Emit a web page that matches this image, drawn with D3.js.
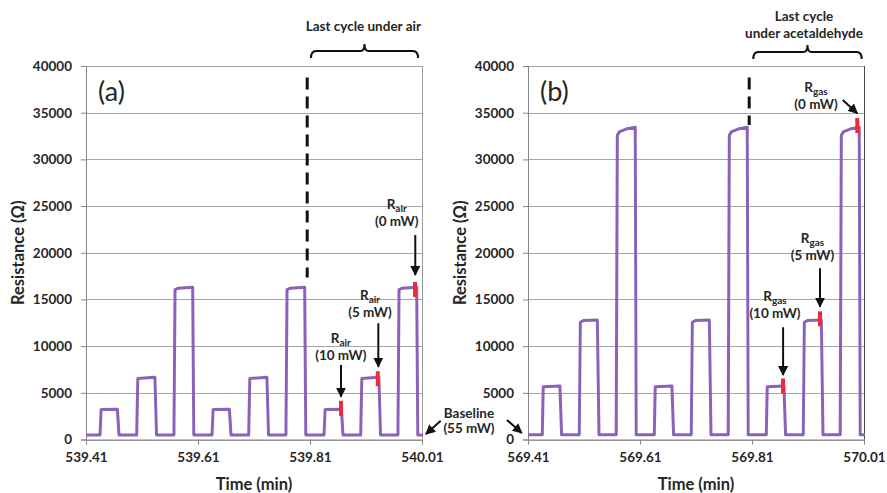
<!DOCTYPE html>
<html>
<head>
<meta charset="utf-8">
<script src="https://cdn.jsdelivr.net/npm/d3@7"></script>
<style>
body{margin:0;background:#fff;}
text{font-family:Lato,"Open Sans",sans-serif;fill:#262626;}
</style>
</head>
<body>
<svg id="chart"></svg>
<script>
// panel (a): last minutes under air
var timeA = [539.41,539.435,539.437,539.466,539.469,539.5005,539.5025,539.533,539.536,539.567,539.569,539.575,539.6005,539.6025,
             539.635,539.637,539.666,539.669,539.7005,539.7025,539.733,539.736,539.767,539.769,539.775,539.8005,539.8025,
             539.835,539.837,539.866,539.869,539.9005,539.9025,539.933,539.936,539.967,539.969,539.975,540.0005,540.0025,540.012];
var resA  = [470,470,3200,3250,470,470,6530,6660,470,470,16050,16200,16300,470,
             470,3200,3250,470,470,6530,6660,470,470,16050,16200,16300,470,
             470,3200,3250,470,470,6530,6660,470,470,16050,16200,16300,470,470];

// panel (b): last minutes under acetaldehyde
var timeB = [569.41,569.4355,569.4372,569.467,569.470,569.5015,569.5035,569.509,569.5338,569.5368,569.5675,569.5695,569.573,569.585,569.6015,569.6032,
             569.6355,569.6372,569.667,569.670,569.7015,569.7035,569.709,569.7338,569.7368,569.7675,569.7695,569.773,569.785,569.8015,569.8032,
             569.8355,569.8372,569.867,569.870,569.9015,569.9035,569.909,569.9338,569.9368,569.9675,569.9695,569.973,569.985,570.0015,570.0032,570.012];
var resB  = [500,500,5640,5740,500,500,12550,12740,12800,500,500,32550,32950,33250,33450,500,
             500,5640,5740,500,500,12550,12740,12800,500,500,32550,32950,33250,33450,500,
             500,5640,5740,500,500,12550,12740,12800,500,500,32550,32950,33250,33450,500,500];

var yTicks  = [0,5000,10000,15000,20000,25000,30000,35000,40000];
var xTicksA = [539.41,539.61,539.81,540.01];
var xTicksB = [569.41,569.61,569.81,570.01];

// red marks where R is read (time, resistance)
var marksA = [[539.8654,3340],[539.931,6510],[539.9975,16070]];
var marksB = [[569.8654,5730],[569.9314,12920],[569.998,33630]];

// labels: [time, resistance, subscript, power]
var labelsA = [[539.9648,24700,"air","(0 mW)"],[539.9171,14950,"air","(5 mW)"],[539.865,10350,"air","(10 mW)"]];
var labelsB = [[569.9243,37200,"gas","(0 mW)"],[569.918,21050,"gas","(5 mW)"],[569.851,14850,"gas","(10 mW)"]];

// arrows: [t1, v1, t2, v2]
var arrowsA = [[539.998,21900,539.998,17620],[539.932,12450,539.932,7800],[539.8654,7980,539.8654,4580],
               [540.0434,2010,540.0171,590]];
var arrowsB = [[569.972,36360,569.998,34940],[569.9314,18340,569.9314,14220],[569.8655,12020,569.8655,6910],
               [569.3725,2090,569.3988,700]];

var w = 887, h = 493;
var svg = d3.select("#chart").attr("width",w).attr("height",h);

var defs = svg.append("defs");
defs.append("marker")
    .attr("id","arrow")
    .attr("markerUnits","userSpaceOnUse")
    .attr("markerWidth",10)
    .attr("markerHeight",10)
    .attr("viewBox","0 0 10 10")
    .attr("refX",9)
    .attr("refY",5)
    .attr("orient","auto")
    .append("path")
    .attr("d","M0,0 L10,5 L0,10 z")
    .attr("fill","#111");

makeChart({
  left:86, time:timeA, res:resA, xTicks:xTicksA, marks:marksA, labels:labelsA, arrows:arrowsA,
  letter:"(a)", dash:[539.805,38770,17350], brace:[539.8118,540.0029,41610],
  title:[[539.9052,43750,"Last cycle under air"]], borderColor:"#9a9a9a"
});
makeChart({
  left:528, time:timeB, res:resB, xTicks:xTicksB, marks:marksB, labels:labelsB, arrows:arrowsB,
  letter:"(b)", dash:[569.805,38770,33680], brace:[569.8123,570.0059,41500],
  title:[[569.9029,44820,"Last cycle"],[569.9029,43050,"under acetaldehyde"]], borderColor:"#4a4a4a",
  baseline:[569.3046,2300]
});

function makeChart(o) {
  var top = 66, width = 336, height = 373.5;

  var xScale = d3.scaleLinear()
                 .domain([o.xTicks[0],o.xTicks[3]])
                 .range([0,width]);
  var yScale = d3.scaleLinear()
                 .domain([0,40000])
                 .range([height,0]);

  var plot = svg.append("g")
                .attr("transform","translate("+o.left+","+top+")");

  // gridlines
  plot.selectAll("line.grid")
      .data(yTicks)
      .enter()
      .append("line")
      .classed("grid",true)
      .attr("x1",0)
      .attr("x2",width)
      .attr("y1",function(d){return Math.round(yScale(d))+0.5;})
      .attr("y2",function(d){return Math.round(yScale(d))+0.5;})
      .attr("stroke","#a6a6a6")
      .attr("stroke-width",1);

  // right border
  plot.append("line")
      .attr("x1",width+0.5).attr("x2",width+0.5)
      .attr("y1",yScale(40000)).attr("y2",yScale(0))
      .attr("stroke",o.borderColor)
      .attr("stroke-width",1);

  var yAxis = d3.axisLeft(yScale)
                .tickValues(yTicks)
                .tickFormat(d3.format("d"))
                .tickSize(5)
                .tickPadding(9);
  var gy = plot.append("g").call(yAxis);
  gy.selectAll("path,line").attr("stroke","#868686");
  gy.selectAll("text")
    .attr("font-family","Lato")
    .attr("font-weight","bold")
    .attr("font-size",13.5)
    .attr("fill","#262626");

  var xAxis = d3.axisBottom(xScale)
                .tickValues(o.xTicks)
                .tickFormat(d3.format(".2f"))
                .tickSize(5)
                .tickPadding(8);
  var gx = plot.append("g")
               .attr("transform","translate(0,"+height+")")
               .call(xAxis);
  gx.selectAll("path,line").attr("stroke","#868686");
  gx.selectAll("text")
    .attr("font-family","Lato")
    .attr("font-weight","bold")
    .attr("font-size",13.5)
    .attr("fill","#262626");

  // axis titles
  plot.append("text")
      .attr("x",width/2)
      .attr("y",height+50)
      .attr("text-anchor","middle")
      .attr("font-weight","bold")
      .attr("font-size",16.5)
      .text("Time (min)");
  plot.append("text")
      .attr("transform","translate(-62,"+(height/2)+") rotate(-90)")
      .attr("text-anchor","middle")
      .attr("font-weight","bold")
      .attr("font-size",16.5)
      .text("Resistance (Ω)");

  plot.append("text")
      .attr("x",12)
      .attr("y",35)
      .attr("font-size",27)
      .text(o.letter);

  // dashed separator
  plot.append("line")
      .attr("x1",xScale(o.dash[0])).attr("x2",xScale(o.dash[0]))
      .attr("y1",yScale(o.dash[1])).attr("y2",yScale(o.dash[2]))
      .attr("stroke","#111")
      .attr("stroke-width",3)
      .attr("stroke-dasharray","12,7");

  // signal
  var points = o.time.map(function(t,i){return [t,o.res[i]];});
  var line = d3.line()
               .x(function(d){return xScale(d[0]);})
               .y(function(d){return yScale(d[1]);});
  plot.append("path")
      .datum(points)
      .attr("d",line)
      .attr("fill","none")
      .attr("stroke","#8c62b9")
      .attr("stroke-width",3)
      .attr("stroke-linejoin","round");

  // red marks
  plot.selectAll("rect.mark")
      .data(o.marks)
      .enter()
      .append("rect")
      .classed("mark",true)
      .attr("x",function(d){return xScale(d[0])-2;})
      .attr("y",function(d){return yScale(d[1])-7.5;})
      .attr("width",4)
      .attr("height",15)
      .attr("fill","#ee2a36");

  // arrows
  plot.selectAll("line.arrow")
      .data(o.arrows)
      .enter()
      .append("line")
      .classed("arrow",true)
      .attr("x1",function(d){return xScale(d[0]);})
      .attr("y1",function(d){return yScale(d[1]);})
      .attr("x2",function(d){return xScale(d[2]);})
      .attr("y2",function(d){return yScale(d[3]);})
      .attr("stroke","#111")
      .attr("stroke-width",2)
      .attr("marker-end","url(#arrow)");

  // R labels
  var labels = plot.selectAll("g.label")
                   .data(o.labels)
                   .enter()
                   .append("g")
                   .classed("label",true)
                   .attr("transform",function(d){
                     return "translate("+xScale(d[0])+","+yScale(d[1])+")";
                   });
  var first = labels.append("text")
                    .attr("text-anchor","middle")
                    .attr("font-weight","bold")
                    .attr("font-size",13.5);
  first.append("tspan").text("R");
  first.append("tspan")
       .attr("font-size",10)
       .attr("dy",3)
       .text(function(d){return d[2];});
  labels.append("text")
        .attr("y",17)
        .attr("text-anchor","middle")
        .attr("font-weight","bold")
        .attr("font-size",13.5)
        .text(function(d){return d[3];});

  // brace + title
  var bx1 = xScale(o.brace[0]), bx2 = xScale(o.brace[1]), by = yScale(o.brace[2]);
  var bm = (bx1+bx2)/2;
  plot.append("path")
      .attr("d","M"+bx1+","+(by+7)+" Q"+bx1+","+by+" "+(bx1+5)+","+by+
                " L"+(bm-4)+","+by+" Q"+bm+","+by+" "+bm+","+(by-7)+
                " Q"+bm+","+by+" "+(bm+4)+","+by+
                " L"+(bx2-5)+","+by+" Q"+bx2+","+by+" "+bx2+","+(by+7))
      .attr("fill","none")
      .attr("stroke","#111")
      .attr("stroke-width",2);

  plot.selectAll("text.title")
      .data(o.title)
      .enter()
      .append("text")
      .classed("title",true)
      .attr("x",function(d){return xScale(d[0]);})
      .attr("y",function(d){return yScale(d[1]);})
      .attr("text-anchor","middle")
      .attr("font-weight","bold")
      .attr("font-size",13.5)
      .text(function(d){return d[2];});

  if (o.baseline) {
    var bl = plot.append("g")
                 .attr("transform","translate("+xScale(o.baseline[0])+","+yScale(o.baseline[1])+")");
    bl.append("text")
      .attr("text-anchor","middle")
      .attr("font-weight","bold")
      .attr("font-size",13.5)
      .text("Baseline");
    bl.append("text")
      .attr("y",15)
      .attr("text-anchor","middle")
      .attr("font-weight","bold")
      .attr("font-size",13.5)
      .text("(55 mW)");
  }
}
</script>
</body>
</html>
